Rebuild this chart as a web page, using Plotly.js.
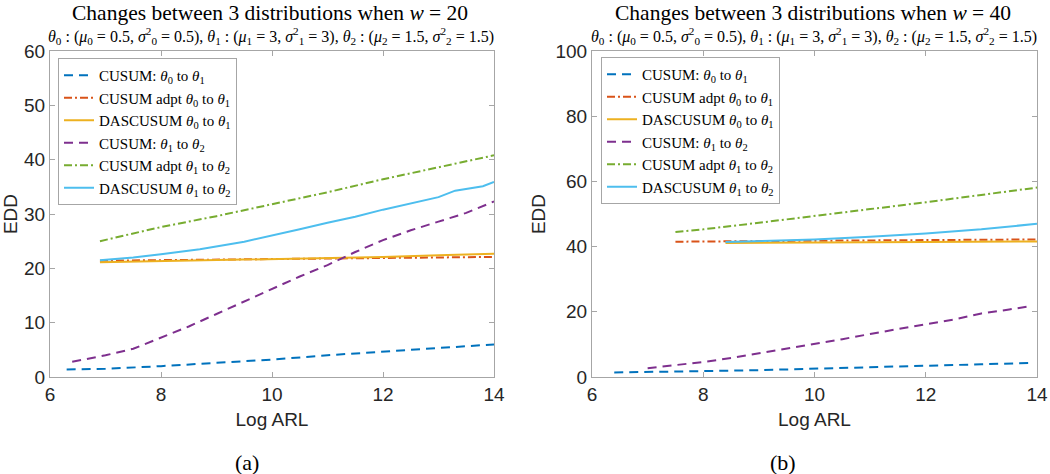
<!DOCTYPE html>
<html>
<head>
<meta charset="utf-8">
<script src="https://cdn.plot.ly/plotly-3.0.1.min.js"></script>
<style>html,body{margin:0;padding:0;background:#fff;}#chart{width:1050px;height:474px;}</style>
</head>
<body>
<div id="chart"></div>
<script>
// ---------- Panel (a): w = 20 ----------
const a_cusum01_x = [6.3, 7, 8, 9, 10, 11, 12, 13, 14];
const a_cusum01_y = [1.4, 1.5, 2.0, 2.6, 3.2, 4.0, 4.7, 5.4, 6.0];
const a_adpt01_x = [6.9, 8, 9, 10, 11, 12, 13, 14];
const a_adpt01_y = [21.4, 21.5, 21.6, 21.7, 21.8, 21.9, 22.0, 22.1];
const a_das01_x = [6.9, 8, 9, 10, 11, 12, 13, 14];
const a_das01_y = [21.1, 21.3, 21.5, 21.7, 21.9, 22.1, 22.4, 22.7];
const a_cusum12_x = [6.4, 7, 7.5, 8, 8.5, 9, 9.5, 10, 10.5, 11, 11.5, 12, 12.5, 13, 13.5, 14];
const a_cusum12_y = [2.8, 4.0, 5.2, 7.2, 9.3, 11.6, 13.9, 16.2, 18.5, 20.6, 23.0, 25.2, 27.0, 28.6, 30.2, 32.3];
const a_adpt12_x = [6.9, 8, 9, 10, 11, 12, 13, 14];
const a_adpt12_y = [25.0, 27.6, 29.6, 31.8, 34.0, 36.4, 38.6, 40.8];
const a_das12_x = [6.9, 7.5, 8, 8.7, 9.5, 10, 10.5, 11, 11.5, 12, 12.5, 13, 13.3, 13.8, 14];
const a_das12_y = [21.5, 22.0, 22.6, 23.5, 24.9, 26.0, 27.2, 28.4, 29.5, 30.8, 31.9, 33.1, 34.3, 35.1, 35.9];

// ---------- Panel (b): w = 40 ----------
const b_cusum01_x = [6.4, 7, 8, 9, 10, 11, 12, 13, 13.9];
const b_cusum01_y = [1.4, 1.5, 1.8, 2.1, 2.5, 3.0, 3.5, 3.9, 4.3];
const b_adpt01_x = [7.5, 8, 9, 10, 11, 12, 13, 14];
const b_adpt01_y = [41.5, 41.6, 41.7, 41.8, 41.9, 42.0, 42.1, 42.2];
const b_das01_x = [8.4, 9, 10, 11, 12, 13, 14];
const b_das01_y = [41.1, 41.2, 41.3, 41.35, 41.4, 41.5, 41.6];
const b_cusum12_x = [7.0, 7.5, 8, 8.5, 9, 9.5, 10, 10.5, 11, 11.5, 12, 12.5, 13, 13.5, 13.9];
const b_cusum12_y = [2.7, 3.6, 4.6, 5.8, 7.2, 8.6, 10.1, 11.6, 13.2, 14.8, 16.2, 17.6, 19.5, 20.7, 21.8];
const b_adpt12_x = [7.5, 8, 9, 10, 11, 12, 13, 14];
const b_adpt12_y = [44.5, 45.3, 47.3, 49.5, 51.5, 53.6, 55.8, 58.1];
const b_das12_x = [8.4, 9, 10, 11, 12, 13, 14];
const b_das12_y = [41.4, 41.7, 42.2, 43.0, 44.0, 45.3, 47.0];

const seriesNames = [
  "CUSUM: <i>θ</i><sub>0</sub> to <i>θ</i><sub>1</sub>",
  "CUSUM adpt <i>θ</i><sub>0</sub> to <i>θ</i><sub>1</sub>",
  "DASCUSUM <i>θ</i><sub>0</sub> to <i>θ</i><sub>1</sub>",
  "CUSUM: <i>θ</i><sub>1</sub> to <i>θ</i><sub>2</sub>",
  "CUSUM adpt <i>θ</i><sub>1</sub> to <i>θ</i><sub>2</sub>",
  "DASCUSUM <i>θ</i><sub>1</sub> to <i>θ</i><sub>2</sub>"
];
const colors = ["#0072BD", "#D95319", "#EDB120", "#7E2F8E", "#77AC30", "#4DBEEE"];
const dashes = ["9px,6px", "8px,3px,2px,3px", "solid", "9px,6px", "8px,3px,2px,3px", "solid"];

const xTickVals = [6, 8, 10, 12, 14];
const aYTicks = [0, 10, 20, 30, 40, 50, 60];
const bYTicks = [0, 20, 40, 60, 80, 100];

const aData = [[a_cusum01_x,a_cusum01_y],[a_adpt01_x,a_adpt01_y],[a_das01_x,a_das01_y],[a_cusum12_x,a_cusum12_y],[a_adpt12_x,a_adpt12_y],[a_das12_x,a_das12_y]];
const bData = [[b_cusum01_x,b_cusum01_y],[b_adpt01_x,b_adpt01_y],[b_das01_x,b_das01_y],[b_cusum12_x,b_cusum12_y],[b_adpt12_x,b_adpt12_y],[b_das12_x,b_das12_y]];

const traces = [];
aData.forEach((d, i) => traces.push({
  x: d[0], y: d[1], type: 'scatter', mode: 'lines', name: seriesNames[i],
  line: {color: colors[i], width: 2, dash: dashes[i]},
  xaxis: 'x', yaxis: 'y', legend: 'legend'
}));
bData.forEach((d, i) => traces.push({
  x: d[0], y: d[1], type: 'scatter', mode: 'lines', name: seriesNames[i],
  line: {color: colors[i], width: 2, dash: dashes[i]},
  xaxis: 'x2', yaxis: 'y2', legend: 'legend2'
}));

const sans = "Liberation Sans, Arial, sans-serif";
const serif = "Liberation Serif, Times New Roman, serif";
const axisCommon = {
  showgrid: false, zeroline: false, showline: true, linecolor: '#a6a6a6', linewidth: 1,
  mirror: 'ticks', ticks: 'inside', ticklen: 5, tickcolor: '#a6a6a6',
  tickfont: {family: sans, size: 19, color: '#262626'}
};
const yDom = [1 - 377/474, 1 - 51/474];
const axTitleFont = {family: sans, size: 19, color: '#262626'};

const subtitle = "<i>θ</i><sub>0</sub> : (<i>μ</i><sub>0</sub> = 0.5, <i>σ</i><sup>2</sup><sub>0</sub> = 0.5), <i>θ</i><sub>1</sub> : (<i>μ</i><sub>1</sub> = 3, <i>σ</i><sup>2</sup><sub>1</sub> = 3), <i>θ</i><sub>2</sub> : (<i>μ</i><sub>2</sub> = 1.5, <i>σ</i><sup>2</sup><sub>2</sub> = 1.5)";

const legendCommon = {
  bgcolor: '#ffffff', bordercolor: '#a6a6a6', borderwidth: 1,
  font: {family: serif, size: 15, color: '#000'},
  xanchor: 'left', yanchor: 'top', itemwidth: 30, tracegroupgap: 0
};

const layout = {
  width: 1050, height: 474,
  margin: {l: 0, r: 0, t: 0, b: 0},
  paper_bgcolor: '#fff', plot_bgcolor: '#fff',
  showlegend: true,
  xaxis: Object.assign({}, axisCommon, {domain: [50/1050, 494/1050], range: [6, 14], tickvals: xTickVals, anchor: 'y',
    title: {text: 'Log ARL', font: axTitleFont, standoff: 8}}),
  yaxis: Object.assign({}, axisCommon, {domain: yDom, range: [0, 60], tickvals: aYTicks, anchor: 'x',
    title: {text: 'EDD', font: axTitleFont, standoff: 4}}),
  xaxis2: Object.assign({}, axisCommon, {domain: [592/1050, 1037/1050], range: [6, 14], tickvals: xTickVals, anchor: 'y2',
    title: {text: 'Log ARL', font: axTitleFont, standoff: 8}}),
  yaxis2: Object.assign({}, axisCommon, {domain: yDom, range: [0, 100], tickvals: bYTicks, anchor: 'x2',
    title: {text: 'EDD', font: axTitleFont, standoff: 4}}),
  legend: Object.assign({}, legendCommon, {x: 58/1050, y: 1 - 58/474}),
  legend2: Object.assign({}, legendCommon, {x: 601/1050, y: 1 - 57/474}),
  annotations: [
    {text: 'Changes between 3 distributions when <i>w</i> = 20', xref: 'paper', yref: 'paper', x: 270/1050, y: 1 - 13/474, xanchor: 'center', yanchor: 'middle', showarrow: false, font: {family: serif, size: 21.5, color: '#000'}},
    {text: subtitle, xref: 'paper', yref: 'paper', x: 271/1050, y: 1 - 35.5/474, xanchor: 'center', yanchor: 'middle', showarrow: false, font: {family: serif, size: 16, color: '#000'}},
    {text: 'Changes between 3 distributions when <i>w</i> = 40', xref: 'paper', yref: 'paper', x: 813/1050, y: 1 - 13/474, xanchor: 'center', yanchor: 'middle', showarrow: false, font: {family: serif, size: 21.5, color: '#000'}},
    {text: subtitle, xref: 'paper', yref: 'paper', x: 814/1050, y: 1 - 35.5/474, xanchor: 'center', yanchor: 'middle', showarrow: false, font: {family: serif, size: 16, color: '#000'}},
    {text: '(a)', xref: 'paper', yref: 'paper', x: 247/1050, y: 1 - 462/474, xanchor: 'center', yanchor: 'middle', showarrow: false, font: {family: serif, size: 22, color: '#000'}},
    {text: '(b)', xref: 'paper', yref: 'paper', x: 783/1050, y: 1 - 462/474, xanchor: 'center', yanchor: 'middle', showarrow: false, font: {family: serif, size: 22, color: '#000'}}
  ]
};

Plotly.newPlot('chart', traces, layout, {staticPlot: true, displayModeBar: false});
</script>
</body>
</html>
